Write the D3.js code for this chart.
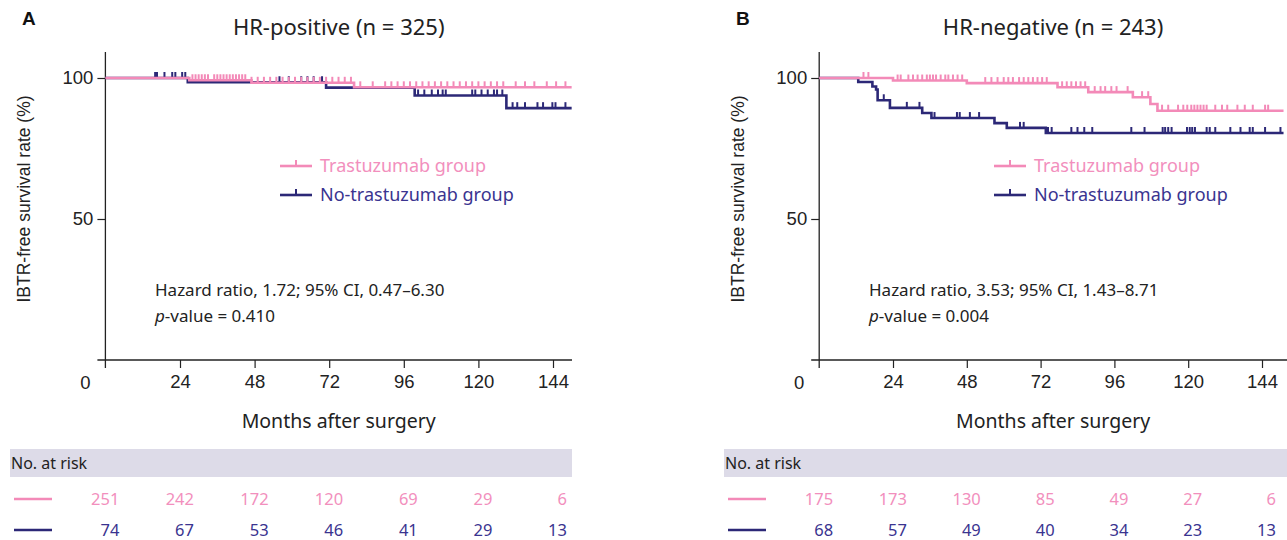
<!DOCTYPE html>
<html>
<head>
<meta charset="utf-8">
<script src="https://cdn.jsdelivr.net/npm/d3@7"></script>
<style>
  body { margin: 0; background: #fff; }
  svg { display: block; }
  .tick text { font-family: "Liberation Sans", Arial, sans-serif; font-size: 18.5px; fill: #222; }
</style>
</head>
<body>
<svg id="chart" width="1287" height="540"></svg>
<script>
// ---- data ----
var months = [0, 24, 48, 72, 96, 120, 144];
var groupNames = ["Trastuzumab group", "No-trastuzumab group"];
var panelTitles = ["HR-positive (n = 325)", "HR-negative (n = 243)"];
var panelLetters = ["A", "B"];
var hazardText = ["Hazard ratio, 1.72; 95% CI, 0.47\u20136.30", "Hazard ratio, 3.53; 95% CI, 1.43\u20138.71"];
var pValues = ["0.410", "0.004"];

// step curves: [month, survival %]
var posTrasSteps = [[0, 100], [27, 99.2], [47, 98.3], [80, 96.7]];
var posNoTrasSteps = [[0, 100], [26.5, 98.5], [71, 96.6], [99.5, 93.8], [129, 89.3]];
var negTrasSteps = [[0, 100], [24, 99.1], [48, 98.2], [77.5, 96.7], [87.5, 95.0], [102, 93.2], [107.7, 90.8], [110, 88.4]];
var negNoTrasSteps = [[0, 100], [12.7, 98.6], [17.3, 97.0], [18.5, 95.9], [19, 92.1], [23, 89.4], [33.5, 87.6], [36.5, 85.8], [57, 84.0], [61, 82.3], [73.7, 80.5]];

// censoring times (months)
var posTrasCensor = [28, 29, 30, 31, 32, 33, 35, 36, 37, 38, 39, 40, 41, 42, 43, 44, 45, 47, 49, 51, 53, 55, 57, 59, 61, 63, 65,
  67, 69, 71, 73, 75, 77, 79, 82, 86, 90, 92, 94, 96, 98, 100, 102, 104, 106, 108, 110, 112, 114, 116, 118, 120, 122, 124,
  126, 128, 132, 135, 138, 142, 145, 148];
var posNoTrasCensor = [16, 16.6, 19, 21.5, 22.5, 24.7, 25.7, 56, 59, 63, 65, 67, 69.7, 100.6, 102.6, 105, 107, 108.5, 109.5,
  118, 119, 121, 123, 125, 126, 127.7, 131, 132.5, 135, 139, 140.8, 143.8, 144.8, 148];
var negTrasCensor = [14.4, 16, 25.5, 26.5, 29, 30.5, 32, 33.5, 35, 36, 37, 38, 39.5, 41, 42, 43.5, 45, 46.5, 54, 56, 58, 60,
  61.5, 63, 65, 66.5, 68, 69.5, 71, 72.5, 74, 79, 80.5, 82, 83.5, 85, 86.5, 89.6, 91.5, 93, 95, 96.7, 100.3, 105, 107,
  111.5, 113.5, 116.7, 118.4, 119.7, 121, 122, 123, 124, 125, 126, 128.8, 131, 132.7, 136, 138.4, 141, 145, 146];
var negNoTrasCensor = [21, 28.5, 32.6, 37.5, 44.8, 45.7, 49, 52, 65.3, 66.5, 74.4, 75.6, 82, 84, 86.2, 88.8, 101.5, 105.8,
  111.7, 112.5, 113.5, 114.6, 119.6, 120.5, 121.3, 122.2, 126, 127, 128.8, 133.7, 137, 140, 141, 145, 150];

// number at risk
var posTrasRisk = [251, 242, 172, 120, 69, 29, 6];
var posNoTrasRisk = [74, 67, 53, 46, 41, 29, 13];
var negTrasRisk = [175, 173, 130, 85, 49, 27, 6];
var negNoTrasRisk = [68, 57, 49, 40, 34, 23, 13];

var colors = ["#f38ab8", "#2c2877"];
var riskColors = ["#f28fbd", "#3a3490"];

var panels = [
  { off: 0, xr: [105.4, 553], end: 150, steps: [posTrasSteps, posNoTrasSteps], censor: [posTrasCensor, posNoTrasCensor], risk: [posTrasRisk, posNoTrasRisk], axisEnd: 572 },
  { off: 714, xr: [819.2, 1262], end: 151, steps: [negTrasSteps, negNoTrasSteps], censor: [negTrasCensor, negNoTrasCensor], risk: [negTrasRisk, negNoTrasRisk], axisEnd: 1287 }
];

var svg = d3.select("#chart");
var y = d3.scaleLinear().domain([0, 100]).range([360, 78]);
var sans = "'Noto Sans', 'Open Sans', sans-serif";

function survivalAt(steps, t) {
  var s = steps[0][1];
  steps.forEach(function(p) { if (p[0] <= t) s = p[1]; });
  return s;
}

panels.forEach(function(p, i) {
  var x = d3.scaleLinear().domain([0, 144]).range(p.xr);
  var g = svg.append("g");

  // letter + title
  g.append("text").attr("x", 22 + p.off).attr("y", 25)
    .style("font-family", "'Liberation Sans', Arial, sans-serif").style("font-weight", "bold").style("font-size", "19px")
    .attr("fill", "#111").text(panelLetters[i]);
  g.append("text").attr("x", (x(0) + p.axisEnd) / 2).attr("y", 35).attr("text-anchor", "middle")
    .style("font-family", sans).style("font-size", "22px").attr("fill", "#222").text(panelTitles[i]);

  // axes
  var yAxis = d3.axisLeft(y).tickValues([50, 100]).tickSize(8).tickPadding(4);
  g.append("g").attr("transform", "translate(" + x(0) + ",0)").call(yAxis)
    .call(function(a) { a.select(".domain").remove(); });
  var xAxis = d3.axisBottom(x).tickValues(months.slice(1)).tickSize(8).tickPadding(7);
  g.append("g").attr("transform", "translate(0," + y(0) + ")").call(xAxis)
    .call(function(a) { a.select(".domain").remove(); });
  g.selectAll(".tick line").attr("stroke", "#222").attr("stroke-width", 1.2);
  g.append("line").attr("x1", x(0)).attr("x2", x(0)).attr("y1", 52).attr("y2", y(0) + 8)
    .attr("stroke", "#222").attr("stroke-width", 1.3);
  g.append("line").attr("x1", x(0) - 8).attr("x2", p.axisEnd).attr("y1", y(0)).attr("y2", y(0))
    .attr("stroke", "#222").attr("stroke-width", 1.3);
  g.append("text").attr("x", x(0) - 20).attr("y", y(0) + 29).attr("text-anchor", "middle")
    .style("font-family", "'Liberation Sans', Arial, sans-serif").style("font-size", "18.5px").attr("fill", "#222").text("0");

  // axis titles
  g.append("text").attr("transform", "translate(" + (x(0) - 75) + ",199) rotate(-90)").attr("text-anchor", "middle")
    .style("font-family", "'Liberation Sans', Arial, sans-serif").style("font-size", "17.5px").attr("fill", "#222")
    .text("IBTR-free survival rate (%)");
  g.append("text").attr("x", (x(0) + p.axisEnd) / 2).attr("y", 428).attr("text-anchor", "middle")
    .style("font-family", sans).style("font-size", "19.5px").attr("fill", "#222").text("Months after surgery");

  // curves (no-trastuzumab first, pink on top)
  [1, 0].forEach(function(k) {
    var pts = p.steps[k].map(function(d) { return [d[0], d[1]]; });
    pts.push([p.end, pts[pts.length - 1][1]]);
    var line = d3.line().x(function(d) { return x(d[0]); }).y(function(d) { return y(d[1]); }).curve(d3.curveStepAfter);
    g.append("path").datum(pts).attr("d", line).attr("fill", "none")
      .attr("stroke", colors[k]).attr("stroke-width", 2.6);
    g.selectAll(null).data(p.censor[k]).enter().append("line")
      .attr("x1", function(t) { return x(t); }).attr("x2", function(t) { return x(t); })
      .attr("y1", function(t) { return y(survivalAt(p.steps[k], t)); })
      .attr("y2", function(t) { return y(survivalAt(p.steps[k], t)) - 6; })
      .attr("stroke", colors[k]).attr("stroke-width", 2);
  });

  // legend
  groupNames.forEach(function(name, k) {
    var ly = 166 + k * 29, lx = 280 + p.off;
    g.append("line").attr("x1", lx).attr("x2", lx + 32).attr("y1", ly).attr("y2", ly)
      .attr("stroke", colors[k]).attr("stroke-width", 2.6);
    g.append("line").attr("x1", lx + 16).attr("x2", lx + 16).attr("y1", ly).attr("y2", ly - 6)
      .attr("stroke", colors[k]).attr("stroke-width", 2);
    g.append("text").attr("x", lx + 40).attr("y", ly + 6)
      .style("font-family", sans).style("font-size", "18px").attr("fill", riskColors[k]).text(name);
  });

  // hazard ratio text
  var ht = g.append("text").attr("x", 155 + p.off).attr("y", 296)
    .style("font-family", sans).style("font-size", "17px").attr("fill", "#222");
  ht.text(hazardText[i]);
  var pt = g.append("text").attr("x", 155 + p.off).attr("y", 322)
    .style("font-family", sans).style("font-size", "17px").attr("fill", "#222");
  pt.append("tspan").style("font-style", "italic").text("p");
  pt.append("tspan").text("-value = " + pValues[i]);

  // number at risk table
  g.append("rect").attr("x", 10 + p.off).attr("y", 449).attr("width", p.axisEnd - 10 - p.off).attr("height", 28)
    .attr("fill", "#dddbe8");
  g.append("text").attr("x", 11 + p.off).attr("y", 469)
    .style("font-family", sans).style("font-size", "16px").attr("fill", "#222").text("No. at risk");
  p.risk.forEach(function(row, k) {
    var ry = 499 + k * 31;
    g.append("line").attr("x1", 14 + p.off).attr("x2", 52 + p.off).attr("y1", ry).attr("y2", ry)
      .attr("stroke", colors[k]).attr("stroke-width", 2.6);
    g.selectAll(null).data(row).enter().append("text")
      .attr("x", function(d, j) { return x(months[j]) + 14; })
      .attr("y", ry + 6).attr("text-anchor", "end")
      .style("font-family", sans).style("font-size", "16.5px").attr("fill", riskColors[k])
      .text(function(d) { return d; });
  });
});
</script>
</body>
</html>
